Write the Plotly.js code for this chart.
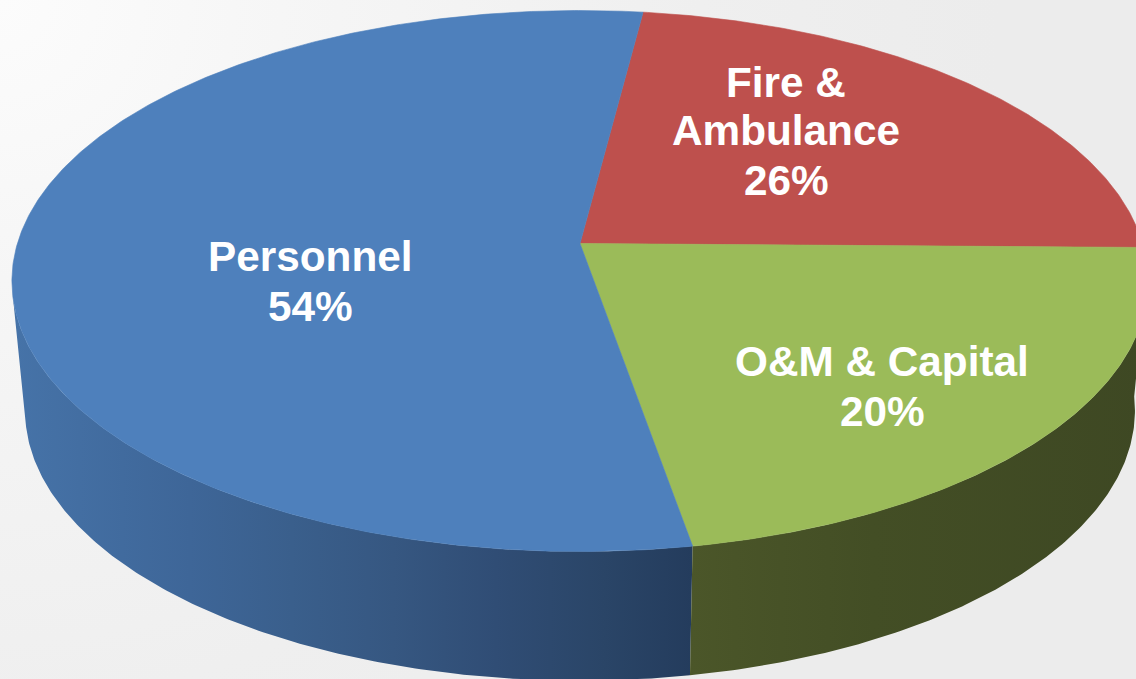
<!DOCTYPE html>
<html>
<head>
<meta charset="utf-8">
<script src="https://cdn.plot.ly/plotly-3.0.1.min.js"></script>
<style>
html,body{margin:0;padding:0;width:1136px;height:679px;overflow:hidden;background:radial-gradient(circle at 0 0,#fcfcfc 0,#f6f6f6 280px,#efefef 700px,#ececec 1000px);}
#chart{width:1136px;height:679px;}
</style>
</head>
<body>
<div id="chart"></div>
<script>
// Slices clockwise from the Personnel / Fire boundary
const categories = ["Fire & Ambulance", "O&M & Capital", "Personnel"];
const labelPercents = [26, 20, 54];
// Share of the disc each slice visibly covers in the picture (its 3D projection differs a little from the printed labels)
const drawnShares = [23.2, 22.0, 54.8];
const faceColors = ["#BE504D", "#9BBB59", "#4E80BC"];
const labelLines = [["Fire &", "Ambulance", labelPercents[0] + "%"], ["O&M & Capital", labelPercents[1] + "%"], ["Personnel", labelPercents[2] + "%"]];
const labelCentersX = [786, 882, 310];
const labelLinesY = [[82.3, 130, 180.3], [361.8, 411.5], [256.3, 306.3]];
const startAngle = 7.33;
const wallEndAngle = 258.5;
const blueWallScale = [[0, "#4673A8"], [0.26, "#3E6698"], [0.41, "#3A5F8C"], [0.56, "#365781"], [0.71, "#304D75"], [0.87, "#2A4567"], [1, "#243C5D"]];
const greenWallScale = [[0, "#4B5629"], [0.4, "#434E25"], [1, "#3E4823"]];

const tilt = -0.1386;
const topDisc = {x: 580, y: 243.5, A: 562.6, B: 265.3};
const baseDisc = {x: 580, y: 373, A: 549.6, B: 265.0};

function project(deg, d) {
  const t = deg * Math.PI / 180, u = Math.sin(t), v = -Math.cos(t), w = 1 + tilt * v;
  return [d.x + d.A * u / w, d.y + d.B * v / w];
}
function arc(a0, a1, d) {
  const n = Math.max(2, Math.ceil(Math.abs(a1 - a0) * 2)), pts = [];
  for (let i = 0; i <= n; i++) pts.push(project(a0 + (a1 - a0) * i / n, d));
  return pts;
}
function polygon(pts, extra) {
  return Object.assign({
    type: "scatter", mode: "lines", x: pts.map(p => p[0]), y: pts.map(p => p[1]),
    fill: "toself", hoverinfo: "skip", showlegend: false
  }, extra);
}

let acc = startAngle;
const bounds = drawnShares.map(s => { const a0 = acc; acc += s * 3.6; return [a0, acc]; });

function wall(a0, a1, scale) {
  return polygon(arc(a0, a1, topDisc).concat(arc(a1, a0, baseDisc)), {
    line: {width: 0},
    fillcolor: scale[0][1],
    fillgradient: {type: "horizontal", colorscale: scale}
  });
}
const traces = [
  wall(bounds[2][0], wallEndAngle, blueWallScale),
  wall(95, bounds[1][1], greenWallScale)
];
bounds.forEach((b, i) => {
  traces.push(polygon([[topDisc.x, topDisc.y]].concat(arc(b[0], b[1], topDisc)).concat([[topDisc.x, topDisc.y]]), {
    fillcolor: faceColors[i], name: categories[i],
    line: {width: 0.6, color: faceColors[i]}
  }));
});

const annotations = [];
labelLines.forEach((lines, i) => lines.forEach((t, j) => annotations.push({
  x: labelCentersX[i], y: labelLinesY[i][j], xref: "x", yref: "y",
  text: t.replace(/&/g, "&amp;"), showarrow: false, xanchor: "center", yanchor: "middle",
  font: {family: "Liberation Sans, Arial, sans-serif", size: 42.3, color: "#FFFFFF", weight: 700}
})));

Plotly.newPlot("chart", traces, {
  width: 1136, height: 679,
  margin: {l: 0, r: 0, t: 0, b: 0},
  paper_bgcolor: "rgba(0,0,0,0)", plot_bgcolor: "rgba(0,0,0,0)",
  showlegend: false,
  xaxis: {range: [0, 1136], visible: false, fixedrange: true},
  yaxis: {range: [679, 0], visible: false, fixedrange: true},
  annotations: annotations
}, {displayModeBar: false, staticPlot: true});
</script>
</body>
</html>
